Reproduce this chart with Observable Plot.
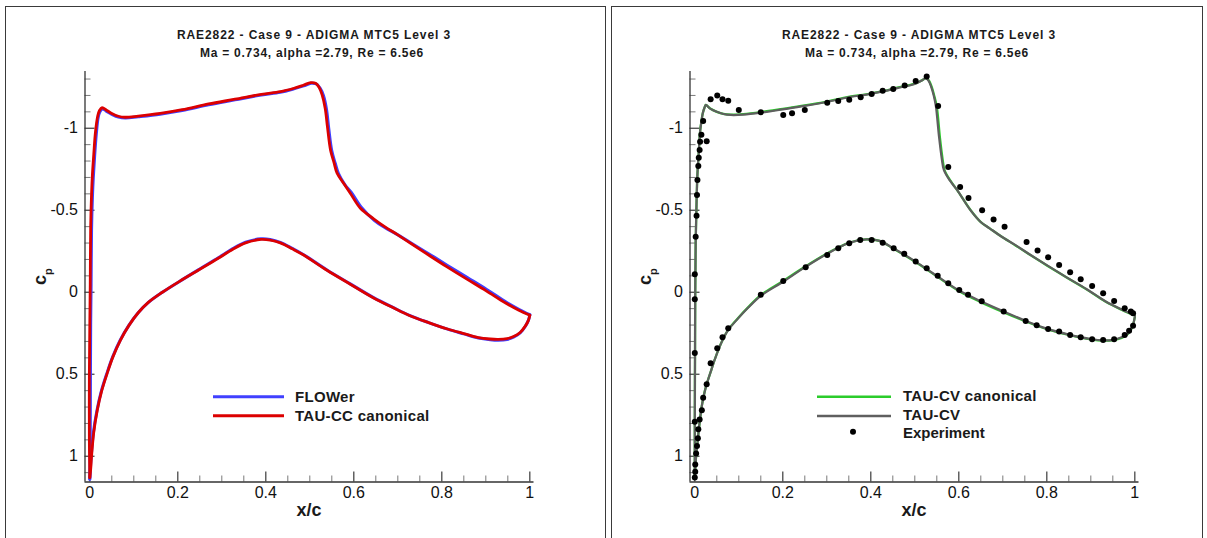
<!DOCTYPE html>
<html><head><meta charset="utf-8">
<script src="https://cdn.jsdelivr.net/npm/d3@7"></script>
<script src="https://cdn.jsdelivr.net/npm/@observablehq/plot@0.6"></script>
<style>
html,body{margin:0;padding:0;background:#fff;}
#wrap{position:relative;width:1207px;height:538px;overflow:hidden;font-family:Arial,"Liberation Sans",sans-serif;}
#wrap svg{position:absolute;top:0;}
</style></head><body><div id="wrap"></div>
<script>
// ---------- texts ----------
const titleText = "RAE2822 - Case 9 - ADIGMA MTC5 Level 3";
const subtitleText = "Ma = 0.734, alpha =2.79, Re = 6.5e6";
const xLabelText = "x/c";
const legendLeft = ["FLOWer", "TAU-CC canonical"];
const legendRight = ["TAU-CV canonical", "TAU-CV", "Experiment"];

// ---------- ticks ----------
const xMajorTicks = [0, 0.2, 0.4, 0.6, 0.8, 1];
const xMinorTicks = [0.05, 0.1, 0.15, 0.25, 0.3, 0.35, 0.45, 0.5, 0.55, 0.65, 0.7, 0.75, 0.85, 0.9, 0.95];
const yMajorTicks = [-1, -0.5, 0, 0.5, 1];
const yMinorTicks = [-1.3, -1.2, -1.1, -0.9, -0.8, -0.7, -0.6, -0.4, -0.3, -0.2, -0.1, 0.1, 0.2, 0.3, 0.4, 0.6, 0.7, 0.8, 0.9, 1.1];

// ---------- FLOWer (left, blue) ----------
const flowerUpperX  = [0.0, 0.001, 0.0015, 0.002, 0.003, 0.004, 0.006, 0.008, 0.011, 0.015, 0.019, 0.023, 0.029, 0.038, 0.05, 0.065, 0.081, 0.11, 0.16, 0.21, 0.27, 0.33, 0.39, 0.433, 0.464, 0.486, 0.503, 0.515, 0.523, 0.531, 0.538, 0.543, 0.55, 0.558, 0.565, 0.58, 0.594, 0.617, 0.647, 0.672, 0.702, 0.732, 0.772, 0.812, 0.859, 0.902, 0.946, 0.976, 1.0];
const flowerUpperCp = [1.14, 0.9, 0.5, 0.2, -0.05, -0.38, -0.58, -0.7, -0.83, -0.97, -1.065, -1.1, -1.118, -1.103, -1.085, -1.068, -1.062, -1.07, -1.086, -1.108, -1.143, -1.173, -1.203, -1.219, -1.24, -1.258, -1.274, -1.27, -1.246, -1.2, -1.115, -1.0, -0.862, -0.785, -0.725, -0.655, -0.61, -0.518, -0.437, -0.392, -0.347, -0.297, -0.232, -0.165, -0.088, -0.017, 0.06, 0.105, 0.137];
const flowerLowerX  = [0.0, 0.001, 0.003, 0.008, 0.016, 0.026, 0.039, 0.052, 0.069, 0.088, 0.109, 0.132, 0.164, 0.202, 0.25, 0.292, 0.325, 0.354, 0.389, 0.41, 0.433, 0.46, 0.486, 0.539, 0.592, 0.645, 0.69, 0.725, 0.77, 0.813, 0.85, 0.883, 0.91, 0.928, 0.948, 0.963, 0.978, 0.99, 0.997, 1.0];
const flowerLowerCp = [1.14, 1.09, 1.01, 0.86, 0.725, 0.605, 0.493, 0.394, 0.293, 0.205, 0.128, 0.065, 0.002, -0.063, -0.142, -0.21, -0.266, -0.305, -0.326, -0.322, -0.304, -0.268, -0.229, -0.136, -0.051, 0.033, 0.094, 0.139, 0.185, 0.225, 0.254, 0.279, 0.289, 0.292, 0.288, 0.274, 0.248, 0.207, 0.17, 0.138];

// ---------- TAU-CC canonical (left, red) ----------
const tauccUpperX  = [0.0, -0.001, -0.001, 0.0, 0.001, 0.002, 0.004, 0.006, 0.009, 0.013, 0.018, 0.022, 0.028, 0.038, 0.05, 0.065, 0.08, 0.11, 0.16, 0.21, 0.27, 0.33, 0.39, 0.433, 0.464, 0.485, 0.502, 0.513, 0.521, 0.528, 0.535, 0.54, 0.547, 0.555, 0.562, 0.578, 0.592, 0.615, 0.645, 0.67, 0.7, 0.73, 0.77, 0.81, 0.857, 0.9, 0.945, 0.975, 1.0];
const tauccUpperCp = [1.13, 0.9, 0.5, 0.2, -0.05, -0.4, -0.6, -0.72, -0.84, -0.98, -1.075, -1.108, -1.125, -1.11, -1.09, -1.073, -1.067, -1.074, -1.09, -1.113, -1.148, -1.177, -1.207, -1.223, -1.244, -1.262, -1.278, -1.274, -1.25, -1.203, -1.12, -1.01, -0.868, -0.79, -0.726, -0.66, -0.604, -0.512, -0.448, -0.4, -0.35, -0.297, -0.227, -0.158, -0.08, -0.01, 0.066, 0.11, 0.14];
const tauccLowerX  = [0.0, 0.002, 0.004, 0.009, 0.017, 0.027, 0.04, 0.053, 0.07, 0.089, 0.11, 0.133, 0.165, 0.203, 0.25, 0.292, 0.325, 0.354, 0.389, 0.41, 0.433, 0.46, 0.486, 0.539, 0.592, 0.645, 0.69, 0.725, 0.77, 0.813, 0.85, 0.883, 0.91, 0.928, 0.948, 0.963, 0.978, 0.99, 0.997, 1.0];
const tauccLowerCp = [1.13, 1.08, 1.0, 0.854, 0.72, 0.602, 0.49, 0.391, 0.29, 0.202, 0.125, 0.062, 0.0, -0.065, -0.14, -0.207, -0.262, -0.301, -0.322, -0.318, -0.301, -0.265, -0.227, -0.134, -0.049, 0.035, 0.095, 0.14, 0.185, 0.224, 0.252, 0.276, 0.285, 0.287, 0.283, 0.27, 0.245, 0.205, 0.17, 0.14];

// ---------- TAU-CV canonical (right, green) ----------
const taucvcUpperX  = [0.0, 0.0, 0.0005, 0.001, 0.002, 0.004, 0.006, 0.009, 0.012, 0.015, 0.018, 0.022, 0.025, 0.035, 0.05, 0.065, 0.082, 0.11, 0.15, 0.2, 0.25, 0.3, 0.349, 0.39, 0.425, 0.46, 0.5, 0.516, 0.526, 0.532, 0.538, 0.544, 0.55, 0.557, 0.563, 0.568, 0.582, 0.597, 0.627, 0.65, 0.671, 0.696, 0.728, 0.758, 0.801, 0.846, 0.891, 0.934, 0.971, 1.0];
const taucvcUpperCp = [1.13, 0.8, 0.4, 0.0, -0.3, -0.55, -0.72, -0.85, -0.98, -1.04, -1.09, -1.125, -1.142, -1.12, -1.1, -1.087, -1.083, -1.086, -1.098, -1.118, -1.139, -1.163, -1.191, -1.207, -1.225, -1.247, -1.272, -1.292, -1.306, -1.291, -1.255, -1.2, -1.13, -0.945, -0.815, -0.742, -0.676, -0.62, -0.5, -0.428, -0.388, -0.341, -0.287, -0.235, -0.162, -0.088, -0.016, 0.058, 0.108, 0.142];
const taucvcLowerX  = [0.0, 0.003, 0.006, 0.009, 0.013, 0.017, 0.023, 0.03, 0.038, 0.045, 0.06, 0.076, 0.095, 0.121, 0.15, 0.197, 0.25, 0.303, 0.35, 0.39, 0.42, 0.45, 0.5, 0.55, 0.6, 0.65, 0.7, 0.75, 0.8, 0.85, 0.9, 0.928, 0.95, 0.97, 0.985, 0.995, 1.0];
const taucvcLowerCp = [1.13, 1.0, 0.92, 0.84, 0.75, 0.677, 0.6, 0.535, 0.47, 0.413, 0.31, 0.228, 0.167, 0.092, 0.018, -0.062, -0.155, -0.24, -0.301, -0.323, -0.313, -0.268, -0.187, -0.097, -0.008, 0.06, 0.12, 0.176, 0.225, 0.26, 0.287, 0.295, 0.292, 0.278, 0.252, 0.207, 0.152];

// ---------- TAU-CV (right, gray) ----------
const taucvUpperX  = [0.0, 0.0, 0.0005, 0.001, 0.002, 0.004, 0.006, 0.009, 0.012, 0.015, 0.018, 0.022, 0.025, 0.035, 0.05, 0.065, 0.082, 0.11, 0.15, 0.2, 0.25, 0.3, 0.349, 0.39, 0.425, 0.46, 0.5, 0.515, 0.525, 0.531, 0.537, 0.543, 0.548, 0.555, 0.561, 0.566, 0.58, 0.596, 0.626, 0.649, 0.67, 0.695, 0.727, 0.757, 0.8, 0.845, 0.89, 0.933, 0.97, 1.0];
const taucvUpperCp = [1.13, 0.8, 0.4, 0.0, -0.3, -0.55, -0.72, -0.85, -0.98, -1.04, -1.09, -1.125, -1.142, -1.12, -1.1, -1.087, -1.081, -1.083, -1.095, -1.115, -1.136, -1.16, -1.189, -1.205, -1.223, -1.245, -1.27, -1.29, -1.305, -1.29, -1.254, -1.2, -1.132, -0.949, -0.82, -0.746, -0.68, -0.624, -0.502, -0.43, -0.39, -0.343, -0.29, -0.238, -0.165, -0.091, -0.02, 0.055, 0.105, 0.14];
const taucvLowerX  = [0.0, 0.003, 0.006, 0.009, 0.013, 0.017, 0.023, 0.03, 0.038, 0.045, 0.06, 0.076, 0.095, 0.121, 0.15, 0.197, 0.25, 0.303, 0.35, 0.39, 0.42, 0.45, 0.5, 0.55, 0.6, 0.65, 0.7, 0.75, 0.8, 0.85, 0.9, 0.928, 0.95, 0.97, 0.985, 0.995, 1.0];
const taucvLowerCp = [1.13, 1.0, 0.92, 0.84, 0.75, 0.677, 0.6, 0.535, 0.47, 0.413, 0.31, 0.23, 0.17, 0.095, 0.022, -0.058, -0.152, -0.238, -0.3, -0.322, -0.313, -0.27, -0.19, -0.1, -0.012, 0.055, 0.115, 0.172, 0.222, 0.258, 0.285, 0.293, 0.29, 0.275, 0.25, 0.205, 0.15];

// ---------- Experiment (right, dots) ----------
const expUpperX  = [0.000, 0.000, 0.002, 0.004, 0.005, 0.006, 0.008, 0.009, 0.011, 0.012, 0.015, 0.019, 0.027, 0.036, 0.051, 0.063, 0.076, 0.100, 0.150, 0.201, 0.221, 0.250, 0.301, 0.326, 0.351, 0.377, 0.402, 0.427, 0.451, 0.477, 0.502, 0.527, 0.553, 0.576, 0.603, 0.622, 0.653, 0.679, 0.704, 0.754, 0.779, 0.803, 0.828, 0.853, 0.877, 0.903, 0.928, 0.953, 0.977, 0.991, 0.996];
const expUpperCp = [0.043, -0.110, -0.339, -0.467, -0.593, -0.685, -0.770, -0.820, -0.868, -0.918, -0.960, -1.044, -0.920, -1.177, -1.199, -1.177, -1.168, -1.112, -1.098, -1.081, -1.091, -1.112, -1.156, -1.166, -1.173, -1.189, -1.209, -1.229, -1.240, -1.260, -1.288, -1.315, -1.135, -0.763, -0.641, -0.574, -0.500, -0.444, -0.400, -0.307, -0.255, -0.213, -0.166, -0.122, -0.079, -0.038, 0.006, 0.053, 0.098, 0.118, 0.128];
const expLowerX  = [0.000, 0.000, 0.011, 0.016, 0.008, 0.007, 0.005, 0.003, 0.001, 0.001, 0.000, 0.019, 0.027, 0.036, 0.051, 0.063, 0.076, 0.150, 0.201, 0.252, 0.301, 0.326, 0.351, 0.376, 0.402, 0.427, 0.452, 0.476, 0.502, 0.527, 0.552, 0.576, 0.601, 0.621, 0.652, 0.702, 0.752, 0.777, 0.803, 0.828, 0.853, 0.877, 0.903, 0.928, 0.953, 0.977, 0.987, 0.996];
const expLowerCp = [0.370, 0.790, 0.776, 0.720, 0.835, 0.890, 0.937, 0.983, 1.050, 1.095, 1.130, 0.643, 0.561, 0.433, 0.341, 0.274, 0.220, 0.016, -0.069, -0.152, -0.227, -0.268, -0.299, -0.319, -0.319, -0.302, -0.268, -0.234, -0.187, -0.146, -0.100, -0.055, -0.014, 0.016, 0.055, 0.118, 0.175, 0.201, 0.224, 0.240, 0.260, 0.274, 0.287, 0.291, 0.287, 0.260, 0.234, 0.205];

// ---------- colours ----------
const colBlue = "#4040ff", colRed = "#dc0000", colGreen = "#2bcc2b", colGray = "#5f5f5f";

// ---------- build ----------
function curve(ux, ucp, lx, lcp) {
  const rows = [];
  ux.forEach((x, i) => rows.push({x, cp: ucp[i], side: "upper"}));
  lx.forEach((x, i) => rows.push({x, cp: lcp[i], side: "lower"}));
  return rows;
}
function pts(xs, cps) { return xs.map((x, i) => ({x, cp: cps[i]})); }

const W = 607, H = 538;
const mL = 84.5, mR = 73.5, mT = 71, mB = 56.5;
const xDom = [-0.0109, 1.0095];
const yDom = [-1.346, 1.157];
const fw = W - mL - mR, fh = H - mT - mB;

function panel(series, dots) {
  const marks = [
    Plot.tickX(xMinorTicks, {x: d => d, insetTop: fh - 6, stroke: "#7a7a7a", strokeWidth: 1}),
    Plot.tickX(xMajorTicks, {x: d => d, insetTop: fh - 10, stroke: "#3a3a3a", strokeWidth: 1.2}),
    Plot.tickY(yMinorTicks, {y: d => d, insetRight: fw - 6, stroke: "#7a7a7a", strokeWidth: 1}),
    Plot.tickY(yMajorTicks, {y: d => d, insetRight: fw - 10, stroke: "#3a3a3a", strokeWidth: 1.2}),
    Plot.axisX(xMajorTicks, {tickSize: 0, tickPadding: 5, tickFormat: d => String(d), fontSize: 16, label: null}),
    Plot.axisY(yMajorTicks, {tickSize: 0, tickPadding: 7, tickFormat: d => String(d), fontSize: 16, label: null}),
  ];
  for (const s of series) {
    marks.push(Plot.line(s.data, {x: "x", y: "cp", z: "side", stroke: s.color, strokeWidth: s.width, curve: "catmull-rom", strokeLinecap: "round", strokeLinejoin: "round"}));
  }
  if (dots) marks.push(Plot.dot(dots, {x: "x", y: "cp", r: 3, fill: "#000", stroke: "none"}));
  marks.push(Plot.ruleX([xDom[0]], {stroke: "#333", strokeWidth: 1.3}));
  marks.push(Plot.ruleY([yDom[1]], {stroke: "#333", strokeWidth: 1.3}));
  return Plot.plot({
    width: W, height: H,
    marginLeft: mL, marginRight: mR, marginTop: mT, marginBottom: mB,
    x: {domain: xDom, label: null},
    y: {domain: yDom, reverse: true, label: null},
    style: {fontFamily: 'Arial, "Liberation Sans", sans-serif', fontSize: "16px", color: "#111", background: "transparent", overflow: "visible"},
    marks
  });
}

const wrap = document.getElementById("wrap");
const leftSvg = panel([
  {data: curve(flowerUpperX, flowerUpperCp, flowerLowerX, flowerLowerCp), color: colBlue, width: 3},
  {data: curve(tauccUpperX, tauccUpperCp, tauccLowerX, tauccLowerCp), color: colRed, width: 2.8}
], null);
leftSvg.style.left = "0px";
wrap.appendChild(leftSvg);

const expData = pts(expUpperX, expUpperCp).concat(pts(expLowerX, expLowerCp));
const rightSvg = panel([
  {data: curve(taucvcUpperX, taucvcUpperCp, taucvcLowerX, taucvcLowerCp), color: colGreen, width: 2.3},
  {data: curve(taucvUpperX, taucvUpperCp, taucvLowerX, taucvLowerCp), color: colGray, width: 2.2}
], expData);
rightSvg.style.left = "605px";
wrap.appendChild(rightSvg);

// ---------- overlay: frames, titles, labels, legends ----------
const ov = d3.select(wrap).append("svg").attr("width", 1207).attr("height", 538)
  .style("left", "0px").style("font-family", 'Arial, "Liberation Sans", sans-serif');
ov.append("rect").attr("x", 5.5).attr("y", 6.5).attr("width", 600).attr("height", 600).attr("fill", "none").attr("stroke", "#3a3a3a");
ov.append("rect").attr("x", 611.5).attr("y", 6.5).attr("width", 591).attr("height", 600).attr("fill", "none").attr("stroke", "#3a3a3a");

[0, 605].forEach((off, k) => {
  const cx = 309 + off;
  ov.append("text").attr("x", cx + 5).attr("y", 38.5).attr("text-anchor", "middle")
    .attr("font-size", 12).attr("font-weight", "bold").attr("letter-spacing", "0.9px").attr("fill", "#1a1a1a").text(titleText);
  ov.append("text").attr("x", cx + 3).attr("y", 57).attr("text-anchor", "middle")
    .attr("font-size", 12).attr("font-weight", "bold").attr("letter-spacing", "0.75px").attr("fill", "#1a1a1a").text(subtitleText);
  ov.append("text").attr("x", cx).attr("y", 516).attr("text-anchor", "middle")
    .attr("font-size", 18).attr("font-weight", "bold").attr("fill", "#1a1a1a").text(xLabelText);
  const cp = ov.append("text").attr("transform", `translate(${46 + off},285) rotate(-90)`)
    .attr("font-size", 18).attr("font-weight", "bold").attr("fill", "#1a1a1a");
  cp.append("tspan").text("c");
  cp.append("tspan").attr("dy", 6).attr("font-size", 11).text("p");
});

// left legend
[[colBlue, 396.7, 401.7], [colRed, 415.7, 420.7]].forEach(([c, ly, ty], i) => {
  ov.append("line").attr("x1", 213).attr("x2", 284).attr("y1", ly).attr("y2", ly).attr("stroke", c).attr("stroke-width", 3);
  ov.append("text").attr("x", 295).attr("y", ty).attr("font-size", 15).attr("font-weight", "bold")
    .attr("letter-spacing", "0.3px").attr("fill", "#1a1a1a").text(legendLeft[i]);
});
// right legend
[[colGreen, 396.7, 400.5], [colGray, 416, 419.5]].forEach(([c, ly, ty], i) => {
  ov.append("line").attr("x1", 817).attr("x2", 891).attr("y1", ly).attr("y2", ly).attr("stroke", c).attr("stroke-width", 2.6);
  ov.append("text").attr("x", 903).attr("y", ty).attr("font-size", 15).attr("font-weight", "bold")
    .attr("letter-spacing", "0.3px").attr("fill", "#1a1a1a").text(legendRight[i]);
});
ov.append("circle").attr("cx", 853).attr("cy", 431.7).attr("r", 3).attr("fill", "#000");
ov.append("text").attr("x", 903).attr("y", 437.5).attr("font-size", 15).attr("font-weight", "bold")
  .attr("letter-spacing", "0px").attr("fill", "#1a1a1a").text(legendRight[2]);
</script>
</body></html>
